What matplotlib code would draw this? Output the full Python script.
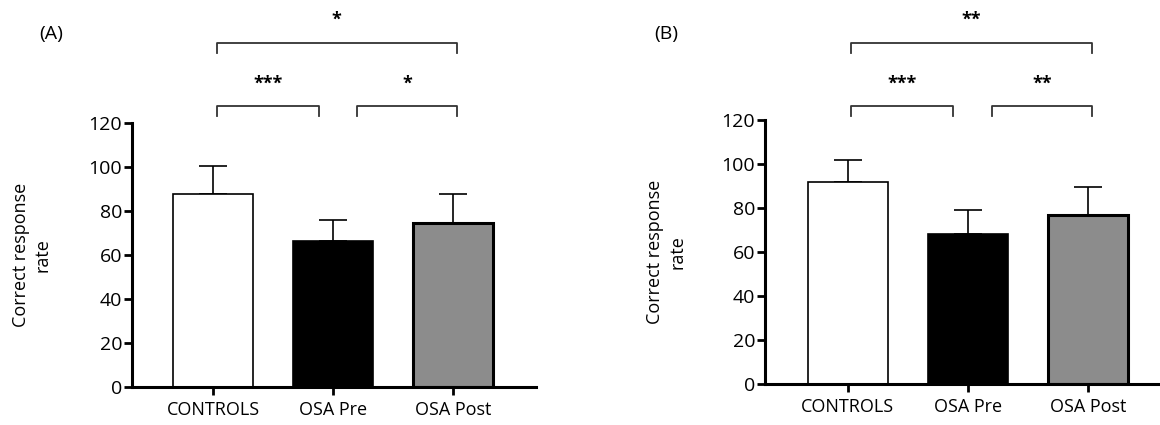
import matplotlib.pyplot as plt

plt.rcParams['font.family'] = ['Open Sans', 'DejaVu Sans']

groups = ['CONTROLS', 'OSA Pre', 'OSA Post']
colors = ['white', 'black', '#8c8c8c']

means_a = [87.5, 66.5, 74.5]
sd_a = [13.0, 9.5, 13.0]
stars_a = ['***', '*', '*']   # pre vs ctrl, post vs pre, post vs ctrl

means_b = [92.0, 68.0, 77.0]
sd_b = [10.0, 11.0, 12.5]
stars_b = ['***', '**', '**']

W, H = 1160, 425
fig = plt.figure(figsize=(W / 100, H / 100), dpi=100)


def panel(left, bottom, right, top, xlim, means, sd, stars, letter, letter_x):
    ax = fig.add_axes([left / W, (H - bottom) / H, (right - left) / W, (bottom - top) / H])
    x = range(len(groups))
    ax.bar(x, means, width=0.667, color=colors, edgecolor='black', linewidth=[1.2, 1.2, 2.2], zorder=2)
    ax.errorbar(x, means, yerr=[[0] * 3, sd], fmt='none', ecolor='black', elinewidth=1.2,
                capsize=10, capthick=1.2, zorder=1)
    ax.set_xlim(*xlim)
    ax.set_ylim(0, 120)
    ax.set_yticks(range(0, 121, 20))
    ax.set_xticks(list(x))
    ax.set_xticklabels(groups, fontsize=13)
    ax.tick_params(axis='y', labelsize=14, width=2, length=6, pad=1)
    ax.tick_params(axis='x', width=2, length=6, pad=4)
    for s in ['top', 'right']:
        ax.spines[s].set_visible(False)
    for s in ['left', 'bottom']:
        ax.spines[s].set_linewidth(2.2)
    ax.set_ylabel('Correct response\nrate', fontsize=13, linespacing=1.25)
    ax.yaxis.set_label_coords(-0.2, 0.5)

    # pixel rows of brackets / stars -> data units (2.2 px per unit)
    def py(p):
        return (bottom - p) / 2.2

    def bracket(x0, x1, y, h, label, ty):
        ax.plot([x0, x0, x1, x1], [py(y + h), py(y), py(y), py(y + h)], color='#333333',
                lw=1.3, clip_on=False)
        ax.text((x0 + x1) / 2, py(ty), label, ha='center', va='center', fontsize=13,
                fontweight='bold')

    bracket(0.03, 0.88, 106, 10, stars[0], 84)
    bracket(1.2, 2.03, 106, 10, stars[1], 84)
    bracket(0.03, 2.03, 43, 10, stars[2], 20)

    fig.text(letter_x / W, 1 - 34 / H, letter, fontsize=14, ha='left', va='center')
    return ax


panel(132, 387, 536, 123, (-0.675, 2.69), means_a, sd_a, stars_a, '(A)', 39)
panel(765, 384, 1160, 120, (-0.69, 2.6), means_b, sd_b, stars_b, '(B)', 654)

fig.savefig('out.png', dpi=100)
